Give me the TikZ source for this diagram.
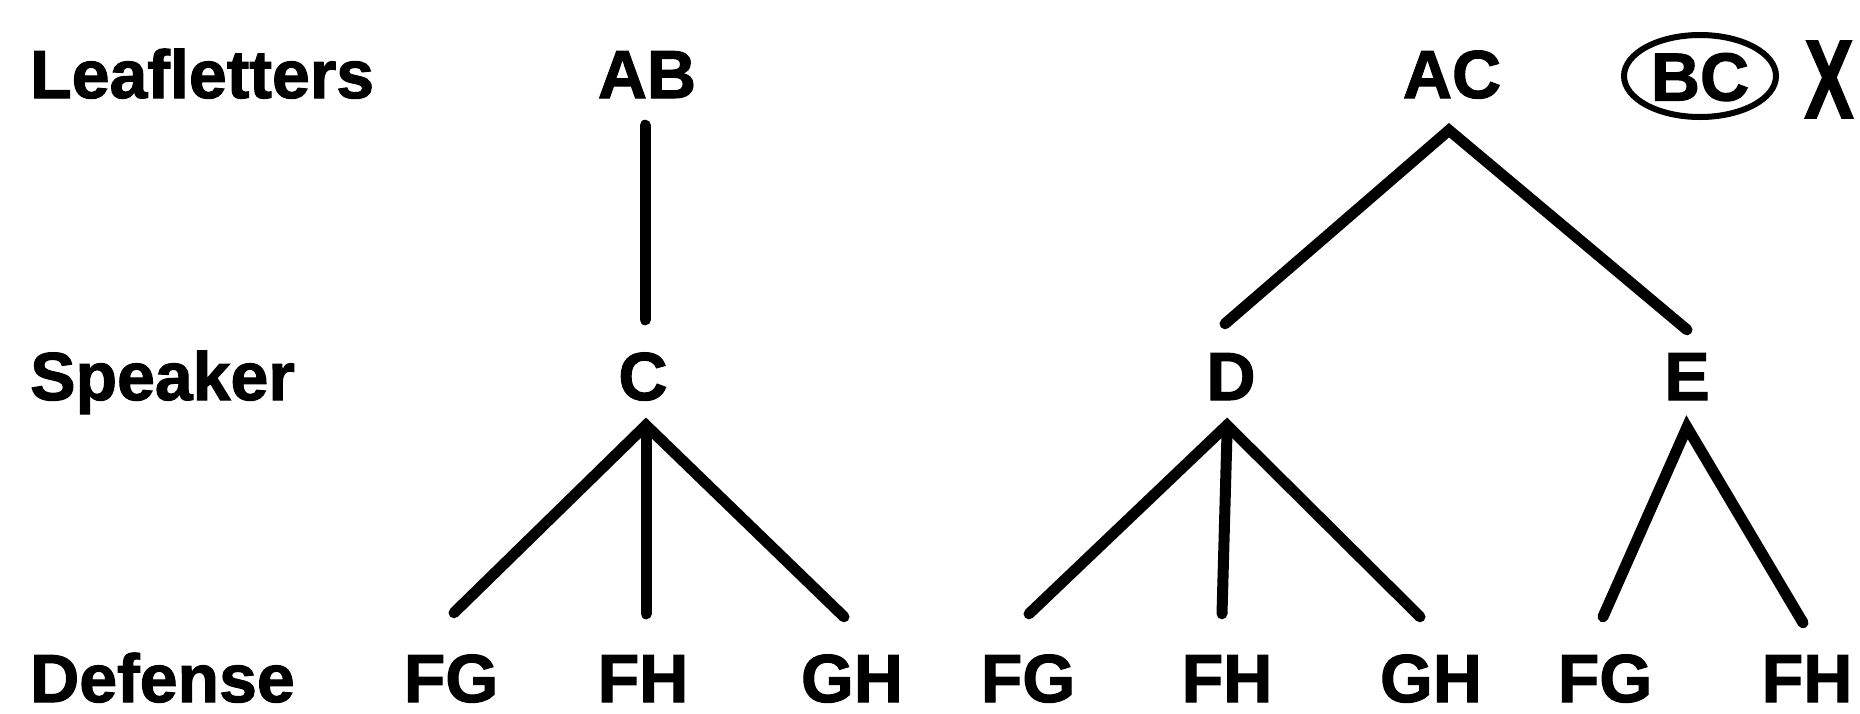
\documentclass[tikz,border=0pt]{standalone}
\usepackage{fontspec}
\setmainfont{Liberation Sans}[BoldFeatures={FakeBold=1.6}]
\usetikzlibrary{shapes.geometric}
\begin{document}
\begin{tikzpicture}[x=1pt,y=-1pt,
  lbl/.style={font=\fontsize{68}{68}\selectfont\bfseries, inner sep=0pt, text height=49pt, text depth=0pt, anchor=base},
  rowlbl/.style={lbl, anchor=base west},
  edge/.style={line width=11pt, line cap=round, line join=miter, miter limit=20}]
\clip (0,0) rectangle (1860,713);
\fill[white] (0,0) rectangle (1860,713);
% row labels
\node[rowlbl] (leaf) at (30,98) {Leafletters};
\node[rowlbl] (speak) at (30,400) {Speaker};
\node[rowlbl] (def) at (30,702) {Defense};
% top row
\node[lbl] (AB) at (647,98) {AB};
\node[lbl] (AC) at (1452,98) {AC};
\node[lbl, ellipse, draw, line width=6pt, minimum width=152pt, minimum height=82pt, anchor=center] (BC) at (1700,76) {BC};
\node[font=\fontsize{112}{112}\selectfont\bfseries, inner sep=0pt, anchor=base] (X) at (1829,118) {\scalebox{0.66}[1]{X}};
% middle row
\node[lbl] (C) at (643,400) {C};
\node[lbl] (D) at (1231,400) {D};
\node[lbl] (E) at (1687,400) {E};
% bottom row
\node[lbl] (FG1) at (451,702) {FG};
\node[lbl] (FH1) at (643,702) {FH};
\node[lbl] (GH1) at (852,702) {GH};
\node[lbl] (FG2) at (1028,702) {FG};
\node[lbl] (FH2) at (1227,702) {FH};
\node[lbl] (GH2) at (1431,702) {GH};
\node[lbl] (FG3) at (1605,702) {FG};
\node[lbl] (FH3) at (1807,702) {FH};
% apexes
\coordinate (ACa) at ([xshift=-3pt,yshift=-32pt]AC.south);
\coordinate (Ca) at ([xshift=3pt,yshift=-25pt]C.south);
\coordinate (Da) at ([xshift=-4pt,yshift=-25pt]D.south);
\coordinate (Ea) at ([yshift=-27pt]E.south);
% connectors
\draw[edge] ([xshift=-2pt,yshift=-27pt]AB.south) -- ([xshift=2pt,yshift=31pt]C.north);
\draw[edge] ([xshift=-6pt,yshift=27pt]D.north) -- (ACa) -- ([yshift=21pt]E.north);
\draw[edge] ([xshift=3pt,yshift=40pt]FG1.north) -- (Ca) -- ([xshift=-8pt,yshift=36pt]GH1.north);
\draw[edge] ([yshift=-8pt]Ca) -- ([xshift=3pt,yshift=39pt]FH1.north);
\draw[edge] ([xshift=1pt,yshift=39pt]FG2.north) -- (Da) -- ([xshift=-11pt,yshift=36pt]GH2.north);
\draw[edge] ([yshift=-8pt]Da) -- ([xshift=-5pt,yshift=39pt]FH2.north);
\draw[edge] ([xshift=-2pt,yshift=36pt]FG3.north) -- (Ea) -- ([xshift=-4pt,yshift=30pt]FH3.north);
\end{tikzpicture}
\end{document}
